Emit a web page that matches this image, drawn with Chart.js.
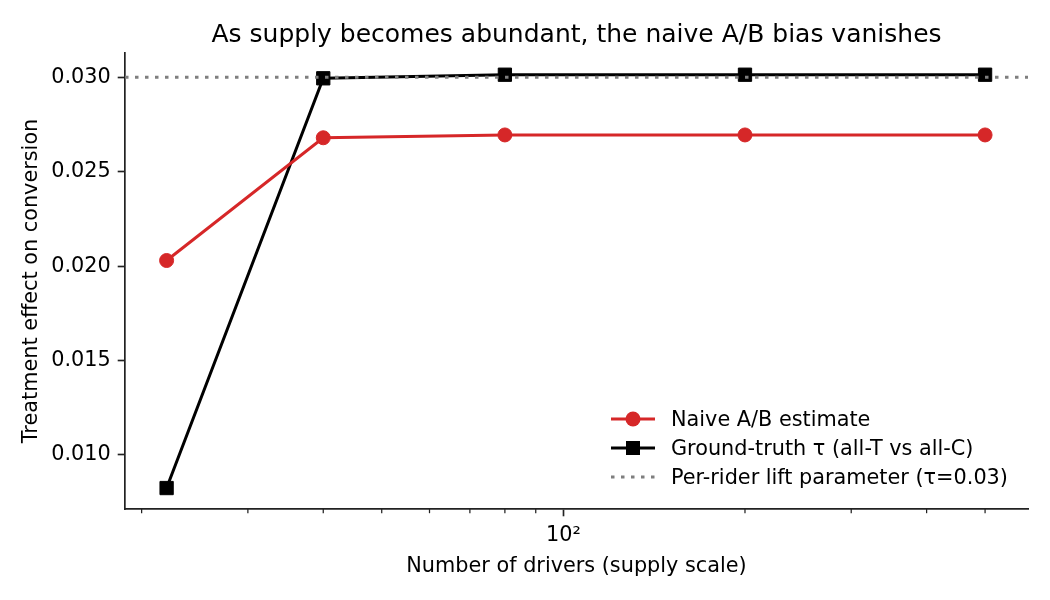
<!DOCTYPE html>
<html>
<head>
<meta charset="utf-8">
<script src="https://cdn.jsdelivr.net/npm/chart.js@4.4.1/dist/chart.umd.min.js"></script>
<style>
  body { margin: 0; background: #fff; }
  #wrap { position: relative; width: 1050px; height: 600px; }
  #legenda { position: absolute; left: 608px; top: 404px; font: 20.8px 'DejaVu Sans', sans-serif; color: #000; }
  #legenda div { height: 29.2px; display: flex; align-items: center; white-space: nowrap; }
  #legenda svg { width: 50px; height: 20px; margin-right: 13px; flex: none; }
</style>
</head>
<body>
<div id="wrap">
  <canvas id="grafico" width="1050" height="600"></canvas>
  <div id="legenda">
    <div><svg viewBox="0 0 50 20"><line x1="3" y1="10" x2="47" y2="10" stroke="#d62728" stroke-width="3"/><circle cx="25" cy="10" r="7.5" fill="#d62728"/></svg>Naive A/B estimate</div>
    <div><svg viewBox="0 0 50 20"><line x1="3" y1="10" x2="47" y2="10" stroke="#000" stroke-width="3"/><rect x="18" y="3" width="14" height="14" fill="#000"/></svg>Ground-truth τ (all-T vs all-C)</div>
    <div><svg viewBox="0 0 50 20"><line x1="3" y1="10" x2="47" y2="10" stroke="#7f7f7f" stroke-width="3" stroke-dasharray="3.5 6.5"/></svg>Per-rider lift parameter (τ=0.03)</div>
  </div>
</div>
<script>
// --- Dados ---
const motoristas = [22, 40, 80, 200, 500];
const estimativaIngenua = [0.0203, 0.0268, 0.02695, 0.02695, 0.02695];
const verdadeTau = [0.00825, 0.02995, 0.03014, 0.03014, 0.03014];
const tauParametro = 0.03;

// limites dos eixos e marcas
const limiteX = [18.77, 589];
const limiteY = [0.00714, 0.03129];
const marcasX = [20, 30, 40, 50, 60, 70, 80, 90, 100, 200, 300, 400, 500];
const marcasY = [0.010, 0.015, 0.020, 0.025, 0.030];

Chart.defaults.font.family = "'DejaVu Sans', sans-serif";
Chart.defaults.color = '#000';

// marcas menores do eixo x (mais curtas, como no matplotlib)
const marcasMenores = {
  id: 'marcasMenores',
  afterDraw(chart) {
    const sx = chart.scales.x;
    const ctx = chart.ctx;
    ctx.save();
    ctx.strokeStyle = '#222';
    ctx.lineWidth = 1.25;
    sx.ticks.forEach(t => {
      if (t.value === 100) return;
      const px = sx.getPixelForValue(t.value);
      ctx.beginPath();
      ctx.moveTo(px, sx.top);
      ctx.lineTo(px, sx.top + 4.2);
      ctx.stroke();
    });
    ctx.restore();
  }
};

new Chart(document.getElementById('grafico'), {
  type: 'line',
  data: {
    datasets: [
      {
        label: 'Per-rider lift parameter (τ=0.03)',
        data: limiteX.map(x => ({ x, y: tauParametro })),
        borderColor: '#7f7f7f', borderWidth: 3, borderDash: [3.5, 6.5],
        pointRadius: 0, order: 0
      },
      {
        label: 'Naive A/B estimate',
        data: motoristas.map((x, i) => ({ x, y: estimativaIngenua[i] })),
        borderColor: '#d62728', backgroundColor: '#d62728', borderWidth: 3,
        pointStyle: 'circle', pointRadius: 7, pointBorderWidth: 1, order: 1
      },
      {
        label: 'Ground-truth τ (all-T vs all-C)',
        data: motoristas.map((x, i) => ({ x, y: verdadeTau[i] })),
        borderColor: '#000', backgroundColor: '#000', borderWidth: 3,
        pointStyle: 'rect', pointRadius: 9.4, pointBorderWidth: 1, order: 2
      }
    ]
  },
  options: {
    responsive: false,
    animation: false,
    layout: { padding: { top: 0, left: 0, right: 22, bottom: 0 } },
    plugins: {
      legend: { display: false },
      tooltip: { enabled: false },
      title: {
        display: true,
        fullSize: false,
        text: 'As supply becomes abundant, the naive A/B bias vanishes',
        font: { size: 25, weight: 'normal' },
        color: '#000',
        padding: { top: 20, bottom: 3 }
      }
    },
    scales: {
      x: {
        type: 'logarithmic',
        min: limiteX[0], max: limiteX[1],
        afterBuildTicks: s => { s.ticks = marcasX.map(v => ({ value: v })); },
        afterFit: s => { s.height = 91; },
        ticks: {
          autoSkip: false, maxRotation: 0, padding: 7,
          font: { size: 20.8 },
          callback: v => (v === 100 ? '10²' : '')
        },
        grid: {
          drawOnChartArea: false, tickLength: 7.3, tickWidth: 1.67,
          tickColor: c => (c.tick && c.tick.value === 100 ? '#222' : 'transparent')
        },
        border: { color: '#222', width: 1.7 },
        title: {
          display: true, text: 'Number of drivers (supply scale)',
          font: { size: 20.8 }, padding: { top: 0, bottom: 21 }
        }
      },
      y: {
        min: limiteY[0], max: limiteY[1],
        afterBuildTicks: s => { s.ticks = marcasY.map(v => ({ value: v })); },
        afterFit: s => { s.width = 125; },
        ticks: { padding: 7, font: { size: 20.8 }, callback: v => v.toFixed(3) },
        grid: { drawOnChartArea: false, tickLength: 7.3, tickWidth: 1.67, tickColor: '#222' },
        border: { color: '#222', width: 1.7 },
        title: {
          display: true, text: 'Treatment effect on conversion',
          font: { size: 20.8 }, padding: { top: 19, bottom: 0 }
        }
      }
    }
  },
  plugins: [marcasMenores]
});
</script>
</body>
</html>
